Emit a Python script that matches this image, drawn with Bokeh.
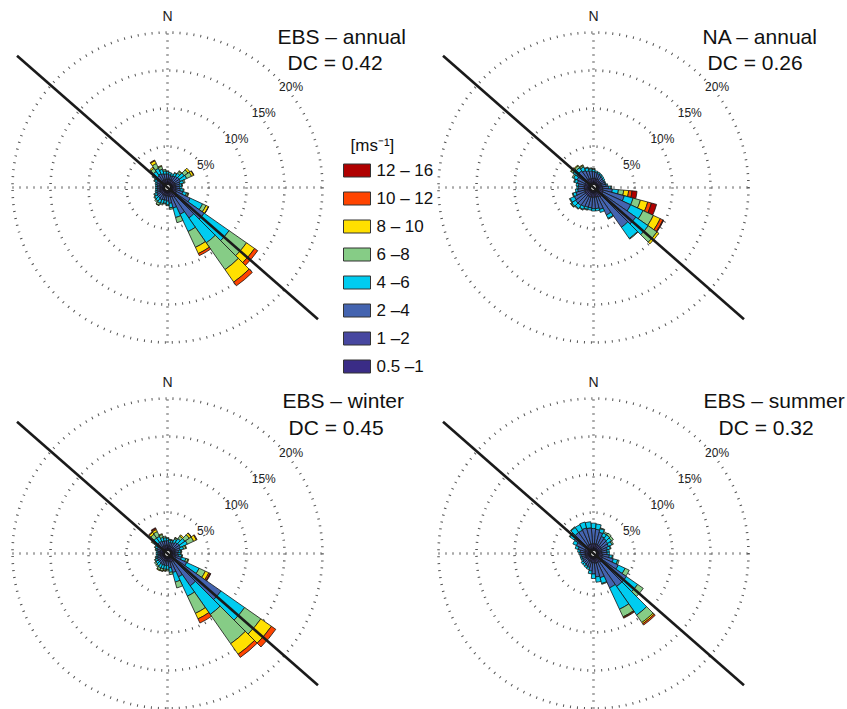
import numpy as np
from bokeh.plotting import figure
from bokeh.models import ColumnDataSource, Range1d
from bokeh.core.properties import value
from bokeh.embed import file_html
from bokeh.resources import INLINE

# ---------------- data ----------------
speed_labels = ["0.5 –1", "1 –2", "2 –4", "4 –6", "6 –8", "8 – 10", "10 – 12", "12 – 16"]
speed_colors = ["#3a2c86", "#4747a0", "#4464b0", "#00ccf0", "#86cc86", "#ffe000", "#ff4400", "#b00000"]
legend_title = "[ms⁻¹]"
directions = list(range(0, 360, 10))          # bin centres (deg from N, clockwise)
ring_pcts = [5, 10, 15, 20]
ring_labels = ["5%", "10%", "15%", "20%"]
line_bearing = 131.2                            # orientation of the black line

# frequency (%) per direction bin, per speed class (0.5-1 ... 12-16 m/s)
ebs_annual = [
    [0.3,0.4,0.7,0.3,0.1,0,0,0], [0.3,0.4,0.6,0.3,0,0,0,0], [0.3,0.4,0.5,0.3,0,0,0,0],
    [0.3,0.4,0.6,0.4,0.1,0,0,0], [0.3,0.4,0.7,0.5,0.3,0.1,0,0], [0.3,0.4,0.8,0.8,0.6,0.3,0,0],
    [0.3,0.4,0.8,0.9,0.7,0.3,0.05,0], [0.3,0.4,0.6,0.5,0.2,0,0,0], [0.3,0.4,0.5,0.3,0.1,0,0,0],
    [0.3,0.4,0.5,0.3,0,0,0,0], [0.3,0.4,0.6,0.4,0.1,0,0,0], [0.3,0.5,0.9,0.5,0.2,0.1,0,0],
    [0.3,0.6,2.0,1.8,0.5,0.35,0.05,0], [0.3,0.9,4.3,4.0,2.8,1.3,0.5,0], [0.3,0.9,3.3,4.0,4.3,2.0,0.6,0],
    [0.3,0.7,2.5,2.5,2.3,0.9,0.3,0], [0.3,0.6,1.5,1.3,0.7,0,0,0], [0.3,0.5,0.9,0.6,0.2,0,0,0],
    [0.3,0.4,0.7,0.5,0.1,0,0,0], [0.3,0.4,0.6,0.4,0.1,0,0,0], [0.3,0.4,0.6,0.5,0.2,0,0,0],
    [0.3,0.4,0.7,0.5,0.3,0.05,0,0], [0.3,0.4,0.6,0.5,0.2,0,0,0], [0.3,0.4,0.6,0.4,0.1,0,0,0],
    [0.3,0.4,0.5,0.3,0.1,0,0,0], [0.3,0.4,0.4,0.2,0,0,0,0], [0.3,0.3,0.4,0.2,0,0,0,0],
    [0.3,0.3,0.4,0.2,0,0,0,0], [0.3,0.3,0.4,0.2,0,0,0,0], [0.3,0.4,0.4,0.2,0,0,0,0],
    [0.3,0.4,0.5,0.3,0.1,0,0,0], [0.3,0.4,0.7,0.5,0.2,0,0,0], [0.3,0.4,0.8,0.7,0.5,0.2,0,0],
    [0.3,0.4,0.9,0.8,0.7,0.4,0.1,0], [0.3,0.4,0.8,0.6,0.4,0.1,0,0], [0.3,0.4,0.7,0.4,0.2,0,0,0],
]
na_annual = [
    [0.3,0.5,0.9,0.3,0.1,0,0,0], [0.3,0.5,0.8,0.2,0,0,0,0], [0.3,0.5,0.7,0.2,0,0,0,0],
    [0.3,0.5,0.6,0.2,0,0,0,0], [0.3,0.4,0.6,0.2,0,0,0,0], [0.3,0.4,0.5,0.2,0,0,0,0],
    [0.3,0.4,0.5,0.1,0,0,0,0], [0.3,0.4,0.5,0.1,0,0,0,0], [0.3,0.4,0.6,0.2,0,0,0,0],
    [0.3,0.5,0.8,0.3,0.1,0,0,0], [0.3,0.5,1.3,0.8,0.7,0.65,0.45,0.65], [0.3,0.6,2.9,1.2,1.0,1.0,0.5,0.7],
    [0.3,0.7,4.0,1.8,1.5,1.0,0.4,0.1], [0.3,0.8,5.3,2.0,1.4,0.3,0,0], [0.3,0.8,4.9,1.8,0.1,0,0,0],
    [0.3,0.7,2.6,0.5,0.1,0,0,0], [0.3,0.6,1.7,0.4,0,0,0,0], [0.3,0.6,1.5,0.3,0,0,0,0],
    [0.3,0.6,1.5,0.3,0,0,0,0], [0.3,0.6,1.4,0.3,0,0,0,0], [0.3,0.6,1.4,0.3,0.1,0,0,0],
    [0.3,0.6,1.5,0.4,0.1,0,0,0], [0.3,0.6,1.6,0.5,0.1,0,0,0], [0.3,0.6,1.6,0.6,0.15,0.05,0,0],
    [0.3,0.6,1.5,0.6,0.1,0,0,0], [0.3,0.5,1.2,0.4,0.1,0,0,0], [0.3,0.5,0.9,0.3,0,0,0,0],
    [0.3,0.5,0.8,0.2,0,0,0,0], [0.3,0.5,0.8,0.3,0,0,0,0], [0.3,0.5,1.0,0.4,0.1,0,0,0],
    [0.3,0.5,1.2,0.5,0.2,0,0,0], [0.3,0.6,1.4,0.6,0.3,0.1,0,0], [0.3,0.6,1.4,0.5,0.3,0.1,0,0],
    [0.3,0.6,1.2,0.5,0.2,0.1,0,0], [0.3,0.5,1.1,0.4,0.1,0,0,0], [0.3,0.5,1.0,0.3,0.1,0,0,0],
]
ebs_winter = [
    [0.3,0.4,0.6,0.3,0.1,0,0,0], [0.3,0.3,0.5,0.3,0.1,0,0,0], [0.3,0.3,0.5,0.3,0.1,0,0,0],
    [0.3,0.3,0.6,0.5,0.2,0.05,0,0], [0.3,0.4,0.7,0.6,0.4,0.2,0,0], [0.3,0.4,0.8,0.9,0.7,0.3,0.05,0],
    [0.3,0.4,0.8,1.0,0.9,0.4,0.1,0], [0.3,0.4,0.6,0.5,0.3,0.1,0,0], [0.3,0.3,0.5,0.3,0.1,0,0,0],
    [0.3,0.3,0.4,0.3,0.1,0,0,0], [0.3,0.3,0.5,0.4,0.1,0,0,0], [0.3,0.4,0.8,0.6,0.3,0.1,0,0],
    [0.3,0.5,1.6,1.8,0.9,0.5,0.2,0.1], [0.3,0.6,7.3,3.8,2.6,1.7,0.7,0], [0.3,0.6,3.9,4.6,4.7,1.7,0.5,0],
    [0.3,0.5,2.2,2.8,2.5,0.8,0.6,0], [0.3,0.5,1.4,1.3,0.8,0,0,0], [0.3,0.4,0.8,0.6,0.3,0,0,0],
    [0.3,0.3,0.6,0.5,0.2,0,0,0], [0.3,0.3,0.6,0.5,0.2,0.05,0,0], [0.3,0.3,0.6,0.5,0.3,0.05,0,0],
    [0.3,0.3,0.6,0.5,0.3,0.1,0,0], [0.3,0.3,0.5,0.5,0.2,0,0,0], [0.3,0.3,0.5,0.4,0.2,0,0,0],
    [0.3,0.3,0.5,0.3,0.1,0,0,0], [0.3,0.3,0.4,0.2,0.1,0,0,0], [0.3,0.3,0.3,0.2,0,0,0,0],
    [0.3,0.3,0.3,0.2,0,0,0,0], [0.3,0.3,0.3,0.2,0,0,0,0], [0.3,0.3,0.4,0.2,0.1,0,0,0],
    [0.3,0.3,0.5,0.3,0.1,0,0,0], [0.3,0.4,0.6,0.5,0.3,0.1,0,0], [0.3,0.4,0.7,0.7,0.6,0.3,0.1,0],
    [0.3,0.4,0.7,0.7,0.7,0.3,0.15,0.1], [0.3,0.4,0.6,0.5,0.4,0.1,0,0], [0.3,0.4,0.6,0.4,0.2,0,0,0],
]
ebs_summer = [
    [0.3,0.6,2.0,0.7,0,0,0,0], [0.3,0.6,1.9,0.7,0,0,0,0], [0.3,0.6,1.6,0.5,0.1,0,0,0],
    [0.3,0.5,1.3,0.5,0.2,0,0,0], [0.3,0.5,1.2,0.6,0.3,0,0,0], [0.3,0.5,1.1,0.6,0.3,0,0,0],
    [0.3,0.5,1.0,0.5,0.2,0,0,0], [0.3,0.4,0.8,0.4,0.1,0,0,0], [0.3,0.4,0.7,0.3,0,0,0,0],
    [0.3,0.4,0.7,0.3,0,0,0,0], [0.3,0.5,0.9,0.4,0.1,0,0,0], [0.3,0.5,1.5,0.6,0.2,0,0,0],
    [0.3,0.6,2.3,1.0,0.6,0,0,0], [0.3,0.7,3.9,1.8,0.9,0,0,0], [0.3,0.7,3.9,4.6,1.2,0.2,0.2,0],
    [0.3,0.6,3.7,3.1,1.1,0.1,0.1,0], [0.3,0.6,2.0,0.8,0.1,0,0,0], [0.3,0.6,1.8,0.7,0,0,0,0],
    [0.3,0.5,1.5,0.6,0,0,0,0], [0.3,0.5,1.1,0.4,0,0,0,0], [0.3,0.4,0.8,0.3,0,0,0,0],
    [0.3,0.4,0.7,0.3,0,0,0,0], [0.3,0.4,0.6,0.3,0,0,0,0], [0.3,0.4,0.6,0.3,0,0,0,0],
    [0.3,0.4,0.5,0.2,0,0,0,0], [0.3,0.4,0.5,0.2,0,0,0,0], [0.3,0.4,0.5,0.2,0,0,0,0],
    [0.3,0.4,0.6,0.2,0,0,0,0], [0.3,0.4,0.7,0.3,0,0,0,0], [0.3,0.5,0.9,0.4,0,0,0,0],
    [0.3,0.5,1.3,0.5,0,0,0,0], [0.3,0.6,1.8,0.7,0.1,0,0,0], [0.3,0.6,2.1,0.8,0.1,0,0,0],
    [0.3,0.6,2.1,0.8,0,0,0,0], [0.3,0.6,2.2,0.8,0,0,0,0], [0.3,0.6,2.1,0.8,0,0,0,0],
]

panel_titles = ["EBS – annual", "NA – annual", "EBS – winter", "EBS – summer"]
panel_dc = ["DC = 0.42", "DC = 0.26", "DC = 0.45", "DC = 0.32"]
panel_data = [ebs_annual, na_annual, ebs_winter, ebs_summer]

# ---------------- layout (page pixels) ----------------
W, H = 847, 709
def fx(X):  # page x -> figure x
    return X
def fy(Y):  # page y -> figure y (up)
    return H - Y

centers = [(167, 187), (593, 187), (167, 553), (593, 553)]
title_pos = [((277, 36), (287, 62)), ((702, 36), (707, 62)),
             ((282, 400), (288, 427)), ((703, 400), (718, 427))]
K = 7.6      # px per percent
R0 = 3.0     # hole radius px
R_OUT = R0 + K * 20
LINE_HALF = 200

p = figure(width=W, height=H, x_range=Range1d(0, W), y_range=Range1d(0, H),
           x_axis_type=None, y_axis_type=None, toolbar_location=None,
           output_backend="svg", min_border=0)
p.outline_line_color = None
p.grid.visible = False
p.background_fill_color = "white"
p.border_fill_color = "white"

FONT = value("Liberation Sans")
dot_kw = dict(line_color="#555555", line_width=2.6, line_dash="1 6")

wx, wy, wir, wor, wsa, wea, wcol = [], [], [], [], [], [], []
for (cX, cY), data in zip(centers, panel_data):
    cx, cy = fx(cX), fy(cY)
    for pc in ring_pcts:
        p.circle(x=[cx], y=[cy], radius=R0 + K * pc, fill_color=None, **dot_kw)
    p.line([cx - R_OUT, cx + R_OUT], [cy, cy], **dot_kw)
    p.line([cx, cx], [cy - R_OUT, cy + R_OUT], **dot_kw)
    arr = np.array(data, dtype=float)
    cum = np.cumsum(arr, axis=1)
    for i, b in enumerate(directions):
        sa = np.radians(90 - b - 5)
        ea = np.radians(90 - b + 5)
        for k in range(8):
            if arr[i, k] <= 0:
                continue
            wx.append(cx); wy.append(cy)
            wir.append(R0 + K * (cum[i, k] - arr[i, k]))
            wor.append(R0 + K * cum[i, k])
            wsa.append(sa); wea.append(ea)
            wcol.append(speed_colors[k])

src = ColumnDataSource(dict(x=wx, y=wy, ir=wir, orr=wor, sa=wsa, ea=wea, color=wcol))
p.annular_wedge(x="x", y="y", inner_radius="ir", outer_radius="orr",
                start_angle="sa", end_angle="ea", fill_color="color",
                line_color="#151515", line_width=0.8, source=src)

for i, (cX, cY) in enumerate(centers):
    cx, cy = fx(cX), fy(cY)
    p.circle(x=[cx], y=[cy], radius=R0, fill_color="white", line_color="#151515", line_width=1.2)
    a = np.radians(90 - line_bearing)
    dx, dy = LINE_HALF * np.cos(a), LINE_HALF * np.sin(a)
    p.line([cx - dx, cx + dx], [cy - dy, cy + dy], line_color="#1a1a1a", line_width=2.6)
    p.text(x=[cx], y=[cy + 172], text=["N"], text_font=FONT, text_font_size="14px",
           text_align="center", text_baseline="middle", text_color="#222222")
    rr = [R0 + K * pc for pc in ring_pcts]
    p.text(x=[cx + 0.72 * r for r in rr], y=[cy + 0.68 * r - 5 for r in rr], text=ring_labels,
           text_font=FONT, text_font_size="12px", text_align="left",
           text_baseline="middle", text_color="#222222")
    (t1, t2) = title_pos[i]
    p.text(x=[fx(t1[0])], y=[fy(t1[1])], text=[panel_titles[i]], text_font=FONT,
           text_font_size="21px", text_align="left", text_baseline="middle", text_color="#111111")
    p.text(x=[fx(t2[0])], y=[fy(t2[1])], text=[panel_dc[i]], text_font=FONT,
           text_font_size="21px", text_align="left", text_baseline="middle", text_color="#111111")

leg_y = [fy(170 + 28 * j) for j in range(8)]
order = list(range(7, -1, -1))
p.rect(x=[fx(356.5)] * 8, y=leg_y, width=27, height=13,
       fill_color=[speed_colors[k] for k in order], line_color="#333333", line_width=1)
p.text(x=[fx(376)] * 8, y=leg_y, text=[speed_labels[k] for k in order], text_font=FONT,
       text_font_size="17px", text_align="left", text_baseline="middle", text_color="#111111")
p.text(x=[fx(350)], y=[fy(145)], text=[legend_title], text_font=FONT,
       text_font_size="17px", text_align="left", text_baseline="middle", text_color="#111111")

open("out.html", "w").write(file_html(p, INLINE))
